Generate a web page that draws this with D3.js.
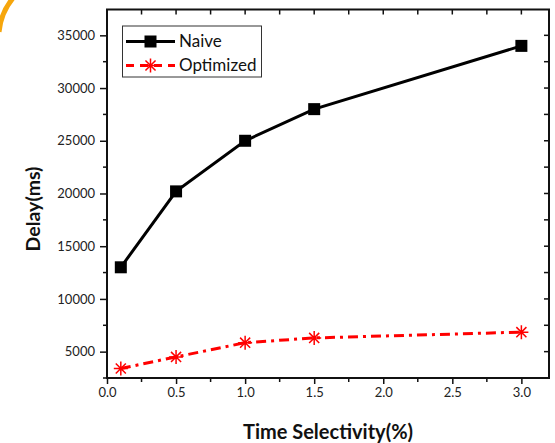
<!DOCTYPE html>
<html><head><meta charset="utf-8">
<script src="https://cdn.jsdelivr.net/npm/d3@7"></script>
<style>html,body{margin:0;padding:0;background:#fff}svg{display:block}</style>
</head><body>
<svg id="c" width="555" height="443"></svg>
<script>
const xValues = [0.1, 0.5, 1.0, 1.5, 3.0];
const naive = [13000, 20200, 25000, 28000, 34000];
const optimized = [3400, 4500, 5850, 6300, 6850];
const seriesNames = ["Naive", "Optimized"];
const xTicks = [0.0, 0.5, 1.0, 1.5, 2.0, 2.5, 3.0];
const yTicks = [5000, 10000, 15000, 20000, 25000, 30000, 35000];
const xLabel = "Time Selectivity(%)";
const yLabel = "Delay(ms)";

const svg = d3.select("#c");
const L = 107, R = 549, T = 9.5, B = 378;
const x = d3.scaleLinear().domain([0, 3.2]).range([L, R]);
const y = d3.scaleLinear().domain([2500, 37450]).range([B, T]);
const font = "Lato, 'Open Sans', sans-serif";

// decorative arc top-left
svg.append("path").attr("d", "M13,-2 A62,62 0 0,0 -1,32")
  .attr("fill", "none").attr("stroke", "#f6a60c").attr("stroke-width", 5);

// lines
const line = d3.line().x((d, i) => x(xValues[i])).y(d => y(d));
svg.append("path").datum(naive).attr("d", line).attr("fill", "none")
  .attr("stroke", "#000").attr("stroke-width", 3);
svg.append("path").datum(optimized).attr("d", line).attr("fill", "none")
  .attr("stroke", "#ff0000").attr("stroke-width", 3).attr("stroke-dasharray", "10,5,3,5");

// markers
function square(g, cx, cy) {
  g.append("rect").attr("x", cx - 6).attr("y", cy - 6).attr("width", 12).attr("height", 12).attr("fill", "#000");
}
function star(g, cx, cy) {
  const r = 7, d = r * 0.72;
  const p = `M${cx - r},${cy}L${cx + r},${cy}M${cx},${cy - r}L${cx},${cy + r}M${cx - d},${cy - d}L${cx + d},${cy + d}M${cx - d},${cy + d}L${cx + d},${cy - d}`;
  g.append("path").attr("d", p).attr("stroke", "#ff0000").attr("stroke-width", 1.5).attr("fill", "none");
}
naive.forEach((v, i) => square(svg, x(xValues[i]), y(v)));
optimized.forEach((v, i) => star(svg, x(xValues[i]), y(v)));

// axes
const minorX = d3.range(0, 3.2001, 0.25).filter(v => Math.abs(v * 2 - Math.round(v * 2)) > 1e-6);
const minorY = d3.range(2500, 37500, 5000);
const gB = svg.append("g").attr("transform", `translate(0,${B})`)
  .call(d3.axisBottom(x).tickValues(xTicks).tickFormat(d3.format(".1f")).tickSize(6).tickPadding(4));
const gL = svg.append("g").attr("transform", `translate(${L},0)`)
  .call(d3.axisLeft(y).tickValues(yTicks).tickFormat(d3.format("d")).tickSize(7).tickPadding(5));
[gB, gL].forEach(g => {
  g.selectAll("text").attr("font-family", font).attr("font-size", 13).attr("fill", "#222");
  g.selectAll("line").attr("stroke", "#111").attr("stroke-width", 1.5);
  g.select(".domain").remove();
});
// minor ticks outward
svg.append("g").selectAll("line").data(minorX).join("line")
  .attr("x1", d => x(d)).attr("x2", d => x(d)).attr("y1", B).attr("y2", B + 4)
  .attr("stroke", "#111").attr("stroke-width", 1.5);
svg.append("g").selectAll("line").data(minorY).join("line")
  .attr("y1", d => y(d)).attr("y2", d => y(d)).attr("x1", L).attr("x2", L - 4)
  .attr("stroke", "#111").attr("stroke-width", 1.5);
// top/right inward ticks
const allX = xTicks.concat(minorX);
const allY = yTicks.concat(minorY);
svg.append("g").selectAll("line").data(allX).join("line")
  .attr("x1", d => x(d)).attr("x2", d => x(d)).attr("y1", T).attr("y2", T + 5)
  .attr("stroke", "#111").attr("stroke-width", 1.5);
svg.append("g").selectAll("line").data(allY).join("line")
  .attr("y1", d => y(d)).attr("y2", d => y(d)).attr("x1", R).attr("x2", R - 5)
  .attr("stroke", "#111").attr("stroke-width", 1.5);
// frame
svg.append("rect").attr("x", L).attr("y", T).attr("width", R - L).attr("height", B - T)
  .attr("fill", "none").attr("stroke", "#111").attr("stroke-width", 2);

// axis titles
svg.append("text").attr("x", (L + R) / 2).attr("y", 439).attr("text-anchor", "middle")
  .attr("font-family", font).attr("font-weight", "bold").attr("font-size", 20).attr("fill", "#111").text(xLabel);
svg.append("text").attr("transform", "translate(40,209) rotate(-90)").attr("text-anchor", "middle")
  .attr("font-family", font).attr("font-weight", "bold").attr("font-size", 19.5).attr("fill", "#111").text(yLabel);

// legend
const lg = svg.append("g");
lg.append("rect").attr("x", 122.5).attr("y", 26).attr("width", 139).attr("height", 51)
  .attr("fill", "#fff").attr("stroke", "#333").attr("stroke-width", 1);
lg.append("line").attr("x1", 126).attr("x2", 175).attr("y1", 41.5).attr("y2", 41.5).attr("stroke", "#000").attr("stroke-width", 3);
square(lg, 150.5, 41.5);
lg.append("line").attr("x1", 126).attr("x2", 175).attr("y1", 65.5).attr("y2", 65.5).attr("stroke", "#ff0000").attr("stroke-width", 3).attr("stroke-dasharray", "8,6");
star(lg, 150.5, 65.5);
seriesNames.forEach((n, i) => {
  lg.append("text").attr("x", 179).attr("y", 41.5 + i * 24).attr("dy", "0.35em")
    .attr("font-family", font).attr("font-size", 17).attr("fill", "#111").text(n);
});
</script>
</body></html>
